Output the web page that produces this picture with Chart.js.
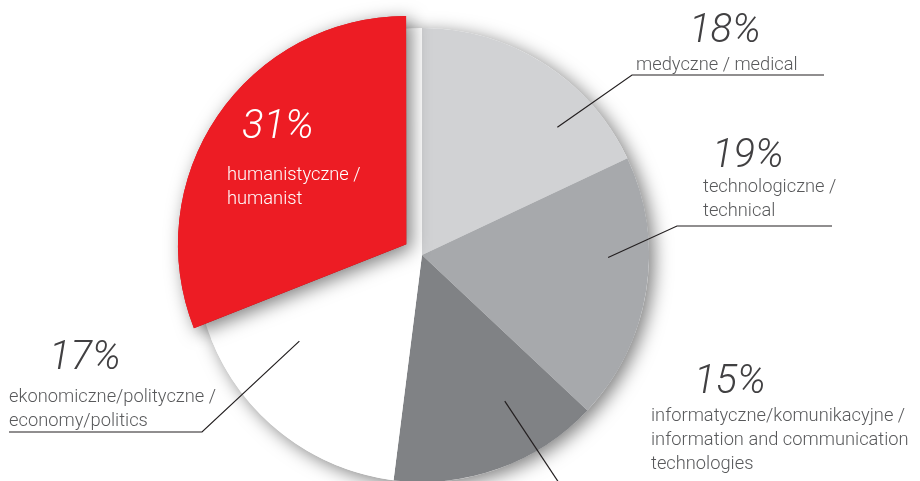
<!DOCTYPE html>
<html>
<head>
<meta charset="utf-8">
<script src="https://cdn.jsdelivr.net/npm/chart.js@4/dist/chart.umd.min.js"></script>
<style>
  html, body { margin: 0; padding: 0; background: #fff; }
  #wrap { position: relative; width: 920px; height: 481px; }
</style>
</head>
<body>
<div id="wrap"><canvas id="pie"></canvas></div>
<script>
// slices run clockwise from 12 o'clock
const categories = [
    ["medyczne / medical"],
    ["technologiczne /", "technical"],
    ["informatyczne/komunikacyjne /", "information and communication", "technologies"],
    ["ekonomiczne/polityczne /", "economy/politics"],
    ["humanistyczne /", "humanist"]
];
const shares = [18, 19, 15, 17, 31];
const sliceColors = ["#d1d2d4", "#a7a9ac", "#808285", "#ffffff", "#ed1c24"];
const sliceOffsets = [0, 0, 0, 0, 76];

// label placement: where the text sits, and where the leader line goes
// anchor = [fraction along the slice angle, fraction of radius]
const labelLayout = [
    { pct: [689, 42], text: [636, 70], color: "#414042", textColor: "#58595b",
      anchor: [0.72, 0.82], path: [[632, 75], [824, 75]] },
    { pct: [712, 167], text: [703, 192], color: "#414042", textColor: "#58595b",
      anchor: [0.38, 0.82], path: [[677, 226], [832, 226]] },
    { pct: [694, 393], text: [651, 421], color: "#414042", textColor: "#58595b",
      anchor: [0.32, 0.74], path: [[567, 495]] },
    { pct: [49, 369], text: [9, 402], color: "#414042", textColor: "#58595b",
      anchor: [0.78, 0.66], path: [[202, 432], [9, 432]] },
    { pct: [242, 138], text: [227, 180], color: "#ffffff", textColor: "#ffffff",
      anchor: null, path: [] }
];

const pctFont = "italic 300 40px 'Roboto', 'Liberation Sans', sans-serif";
const textFont = "300 18.3px 'Roboto', 'Liberation Sans', sans-serif";
const lineHeight = 24;

function setShadow(ctx) {
    ctx.shadowColor = "rgba(0, 0, 0, 0.5)";
    ctx.shadowBlur = 18;
    ctx.shadowOffsetX = 5;
    ctx.shadowOffsetY = 4;
}

const pieShadow = {
    id: "pieShadow",
    beforeDatasetsDraw(chart) {
        const arc = chart.getDatasetMeta(0).data[0];
        const ctx = chart.ctx;
        ctx.save();
        setShadow(ctx);
        ctx.fillStyle = "#fff";
        ctx.beginPath();
        ctx.arc(arc.x, arc.y, arc.outerRadius, 0, Math.PI * 2);
        ctx.fill();
        ctx.restore();
    },
    afterDatasetsDraw(chart) {
        // the pulled-out slice throws its shadow over the rest of the pie
        const ctx = chart.ctx;
        const meta = chart.getDatasetMeta(0);
        meta.data.forEach((arc, i) => {
            if (!sliceOffsets[i]) return;
            ctx.save();
            setShadow(ctx);
            arc.draw(ctx);
            ctx.restore();
        });
    }
};

const pieLabels = {
    id: "pieLabels",
    afterDraw(chart) {
        const ctx = chart.ctx;
        const meta = chart.getDatasetMeta(0);
        ctx.save();
        labelLayout.forEach((lay, i) => {
            const arc = meta.data[i];
            // leader line
            if (lay.anchor) {
                const a = arc.startAngle + (arc.endAngle - arc.startAngle) * lay.anchor[0];
                const r = arc.outerRadius * lay.anchor[1];
                ctx.beginPath();
                ctx.moveTo(arc.x + Math.cos(a) * r, arc.y + Math.sin(a) * r);
                lay.path.forEach(p => ctx.lineTo(p[0], p[1]));
                ctx.strokeStyle = "#231f20";
                ctx.lineWidth = 1.2;
                ctx.stroke();
            }
            ctx.textAlign = "left";
            ctx.textBaseline = "alphabetic";
            ctx.fillStyle = lay.color;
            ctx.font = pctFont;
            ctx.fillText(shares[i] + "%", lay.pct[0], lay.pct[1]);
            ctx.fillStyle = lay.textColor;
            ctx.font = textFont;
            categories[i].forEach((line, k) => {
                ctx.fillText(line, lay.text[0], lay.text[1] + k * lineHeight);
            });
        });
        ctx.restore();
    }
};

new Chart(document.getElementById("pie"), {
    type: "pie",
    data: {
        labels: categories.map(c => c.join(" ")),
        datasets: [{
            data: shares,
            backgroundColor: sliceColors,
            offset: sliceOffsets,
            borderWidth: 0,
            clip: false
        }]
    },
    options: {
        responsive: true,
        maintainAspectRatio: false,
        animation: false,
        radius: 227,
        layout: { padding: { left: 0, right: 76, top: 29, bottom: 0 } },
        plugins: {
            legend: { display: false },
            tooltip: { enabled: false }
        }
    },
    plugins: [pieShadow, pieLabels]
});
</script>
</body>
</html>
